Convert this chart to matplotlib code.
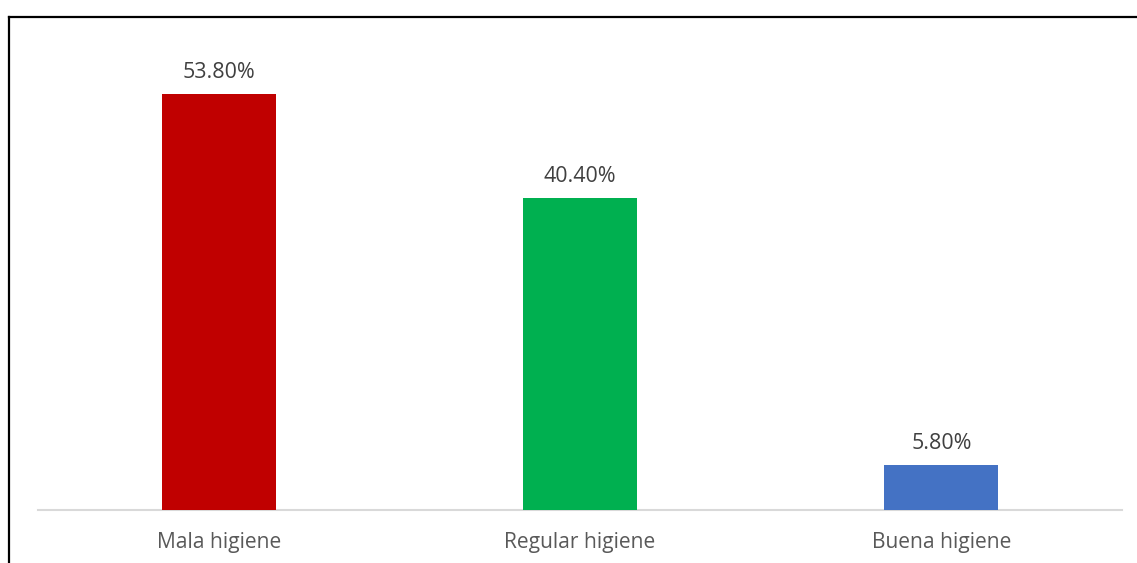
import matplotlib
matplotlib.use("Agg")
import matplotlib.pyplot as plt
from matplotlib.lines import Line2D

categories = ["Mala higiene", "Regular higiene", "Buena higiene"]
values = [53.8, 40.4, 5.8]
colors = ["#C00000", "#00B050", "#4472C4"]
labels = ["53.80%", "40.40%", "5.80%"]

W, H = 1137, 563
fig = plt.figure(figsize=(W/100, H/100), dpi=100)
plt.rcParams['font.family'] = ['Open Sans', 'DejaVu Sans']

x0, x1 = 38, 1122
ybase, ytop = 510, 46
ax = fig.add_axes([x0/W, 1-ybase/H, (x1-x0)/W, (ybase-ytop)/H])
xs = list(range(len(categories)))
bars = ax.bar(xs, values, width=0.316, color=colors, zorder=3)
ax.set_xlim(-0.5, 2.5)
ax.set_ylim(0, 60)
for s in ["top", "right", "left"]:
    ax.spines[s].set_visible(False)
ax.spines["bottom"].set_color("#D9D9D9")
ax.spines["bottom"].set_linewidth(1.5)
ax.set_yticks([])
ax.set_xticks(xs)
ax.set_xticklabels(categories, fontsize=15.1, color="#595959", va="baseline")
ax.tick_params(axis="x", length=0, pad=38*0.72)
for b, lab in zip(bars, labels):
    ax.annotate(lab, (b.get_x()+b.get_width()/2, b.get_height()), xytext=(0, 16*0.72),
                textcoords="offset points", ha="center", va="baseline",
                fontsize=15.4, color="#404040")

# outer border lines (top and left)
fig.add_artist(Line2D([8.5/W, 1], [1-16.5/H, 1-16.5/H], color="black", lw=1.6, transform=fig.transFigure))
fig.add_artist(Line2D([8.5/W, 8.5/W], [0, 1-16.5/H], color="black", lw=1.6, transform=fig.transFigure))

fig.savefig("out.png", dpi=100)
